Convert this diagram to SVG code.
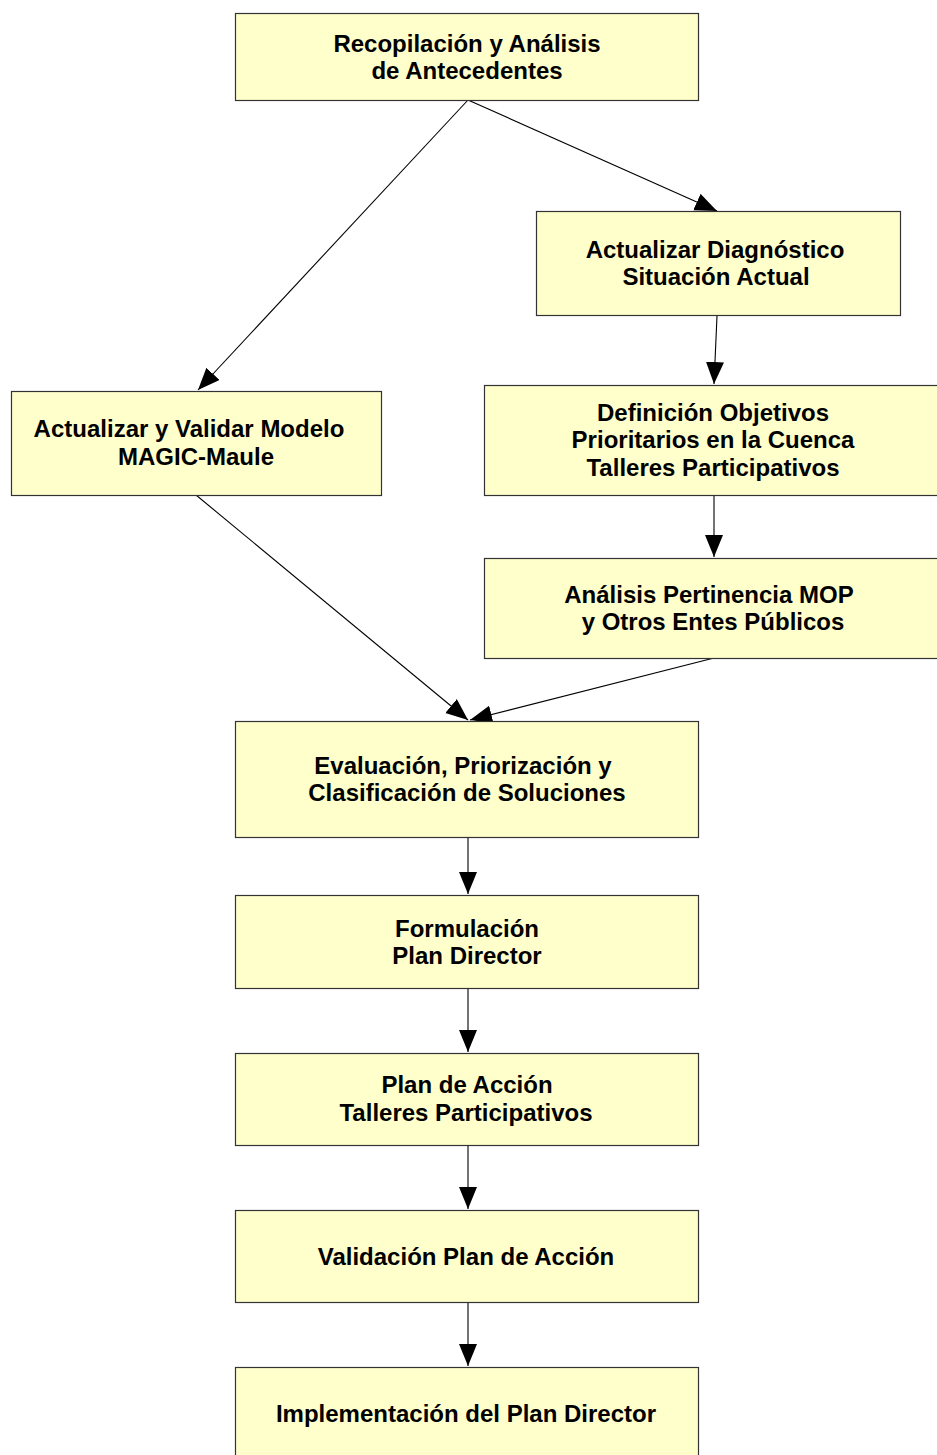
<svg xmlns="http://www.w3.org/2000/svg" width="937" height="1455" viewBox="0 0 937 1455">
  <style>
    .box { fill: #FFFFCC; stroke: #333333; stroke-width: 1.2; }
    .lbl { font-family: "Liberation Sans", Arial, sans-serif; font-weight: bold; font-size: 24px; fill: #000000; text-anchor: middle; }
    .edge { stroke: #000000; stroke-width: 1.1; fill: none; marker-end: url(#arrow); }
  </style>
  <defs>
    <marker id="arrow" markerUnits="userSpaceOnUse" markerWidth="24" markerHeight="20" refX="22" refY="9" orient="auto">
      <path d="M0,0 L22,9 L0,18 Z" fill="#000000"/>
    </marker>
  </defs>
  <rect width="937" height="1455" fill="#FFFFFF"/>

  <g id="connectors">
    <line class="edge" x1="468" y1="100" x2="198" y2="390"/>
    <line class="edge" x1="468" y1="100" x2="717" y2="211"/>
    <line class="edge" x1="717" y1="316" x2="714" y2="384"/>
    <line class="edge" x1="714" y1="495" x2="714" y2="557"/>
    <line class="edge" x1="196" y1="495" x2="468" y2="720"/>
    <line class="edge" x1="714" y1="658" x2="470" y2="720"/>
    <line class="edge" x1="468" y1="837" x2="468" y2="894"/>
    <line class="edge" x1="468" y1="988" x2="468" y2="1052"/>
    <line class="edge" x1="468" y1="1145" x2="468" y2="1209"/>
    <line class="edge" x1="468" y1="1302" x2="468" y2="1366"/>
  </g>

  <g id="recopilacion">
    <rect class="box" x="235.5" y="13.5" width="463" height="87"/>
    <text class="lbl" x="467" y="52">Recopilación y Análisis</text>
    <text class="lbl" x="467" y="79">de Antecedentes</text>
  </g>

  <g id="diagnostico">
    <rect class="box" x="536.5" y="211.5" width="364" height="104"/>
    <text class="lbl" x="715" y="258">Actualizar Diagnóstico</text>
    <text class="lbl" x="716" y="285">Situación Actual</text>
  </g>

  <g id="modelo">
    <rect class="box" x="11.5" y="391.5" width="370" height="104"/>
    <text class="lbl" x="189" y="437">Actualizar y Validar Modelo</text>
    <text class="lbl" x="196" y="465">MAGIC-Maule</text>
  </g>

  <g id="objetivos">
    <rect class="box" x="484.5" y="385.5" width="460" height="110"/>
    <text class="lbl" x="713" y="421">Definición Objetivos</text>
    <text class="lbl" x="713" y="448">Prioritarios en la Cuenca</text>
    <text class="lbl" x="713" y="476">Talleres Participativos</text>
  </g>

  <g id="pertinencia">
    <rect class="box" x="484.5" y="558.5" width="460" height="100"/>
    <text class="lbl" x="709" y="603">Análisis Pertinencia MOP</text>
    <text class="lbl" x="713" y="630">y Otros Entes Públicos</text>
  </g>

  <g id="evaluacion">
    <rect class="box" x="235.5" y="721.5" width="463" height="116"/>
    <text class="lbl" x="463" y="774">Evaluación, Priorización y</text>
    <text class="lbl" x="467" y="801">Clasificación de Soluciones</text>
  </g>

  <g id="formulacion">
    <rect class="box" x="235.5" y="895.5" width="463" height="93"/>
    <text class="lbl" x="467" y="937">Formulación</text>
    <text class="lbl" x="467" y="964">Plan Director</text>
  </g>

  <g id="plan-accion">
    <rect class="box" x="235.5" y="1053.5" width="463" height="92"/>
    <text class="lbl" x="467" y="1093">Plan de Acción</text>
    <text class="lbl" x="466" y="1121">Talleres Participativos</text>
  </g>

  <g id="validacion">
    <rect class="box" x="235.5" y="1210.5" width="463" height="92"/>
    <text class="lbl" x="466" y="1265">Validación Plan de Acción</text>
  </g>

  <g id="implementacion">
    <rect class="box" x="235.5" y="1367.5" width="463" height="100"/>
    <text class="lbl" x="466" y="1422">Implementación del Plan Director</text>
  </g>
</svg>
